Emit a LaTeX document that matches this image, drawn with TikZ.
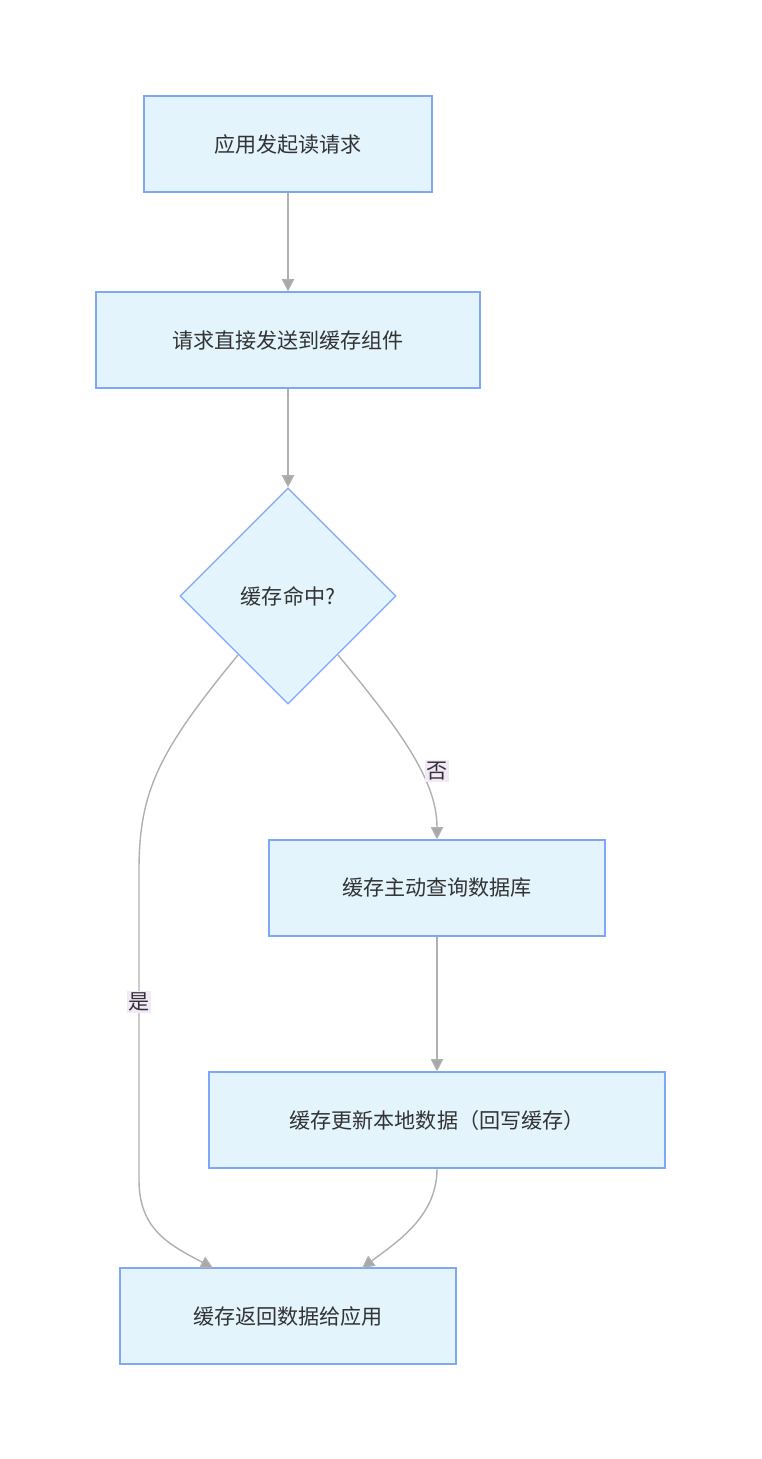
\documentclass[tikz,border=0pt]{standalone}
\usepackage{fontspec}
\setmainfont{Noto Sans CJK SC}
\usetikzlibrary{shapes.geometric,arrows.meta,positioning}
\definecolor{boxfill}{HTML}{E3F4FD}
\definecolor{boxline}{HTML}{7EA8F7}
\definecolor{edgeline}{HTML}{B0B0B0}
\definecolor{tipfill}{HTML}{A8A8A8}
\definecolor{lblfill}{HTML}{F2E8F8}
\definecolor{txt}{HTML}{333333}
\begin{document}
\begin{tikzpicture}[x=0.02cm, y=-0.02cm, font=\fontsize{12}{14}\selectfont, text=txt,
  box/.style={draw=boxline, fill=boxfill, line width=0.7pt, minimum height=1.92cm},
  dec/.style={diamond, draw=boxline, fill=boxfill, line width=0.7pt, minimum width=4.32cm, minimum height=4.32cm, inner sep=0pt},
  arr/.style={draw=edgeline, line width=0.8pt, -{Triangle[length=7pt, width=7pt, fill=tipfill]}},
  lbl/.style={fill=lblfill, inner sep=1pt}]
  \useasboundingbox (0,0) rectangle (761,1459);
  % nodes
  \node[box, minimum width=5.76cm] (req) at (288,144) {应用发起读请求};
  \node[box, minimum width=7.68cm] (send) at (288,340) {请求直接发送到缓存组件};
  \node[dec] (hit) at (288,596) {缓存命中?};
  \node[box, minimum width=6.72cm] (query) at (437,888) {缓存主动查询数据库};
  \node[box, minimum width=9.12cm] (update) at (437,1120) {缓存更新本地数据（回写缓存）};
  \node[box, minimum width=6.72cm] (ret) at (288,1316) {缓存返回数据给应用};
  \coordinate (hitL) at (238,655);
  \coordinate (hitR) at (338,655);
  \coordinate (retL) at (213,1268);
  \coordinate (retR) at (362,1268);
  % edges
  \draw[arr] (req) -- (send);
  \draw[arr] (send) -- (hit);
  \draw[arr] (hitR) .. controls (400,730) and (437,780) .. (query.north);
  \node[lbl] (no) at (437,771) {否};
  \draw[arr] (hitL) .. controls (160,750) and (139,790) .. (139,870)
    -- (139,1180) .. controls (139,1230) and (170,1245) .. (retL);
  \node[lbl] (yes) at (139,1002) {是};
  \draw[arr] (query) -- (update);
  \draw[arr] (update.south) .. controls (437,1215) and (400,1240) .. (retR);
\end{tikzpicture}
\end{document}
